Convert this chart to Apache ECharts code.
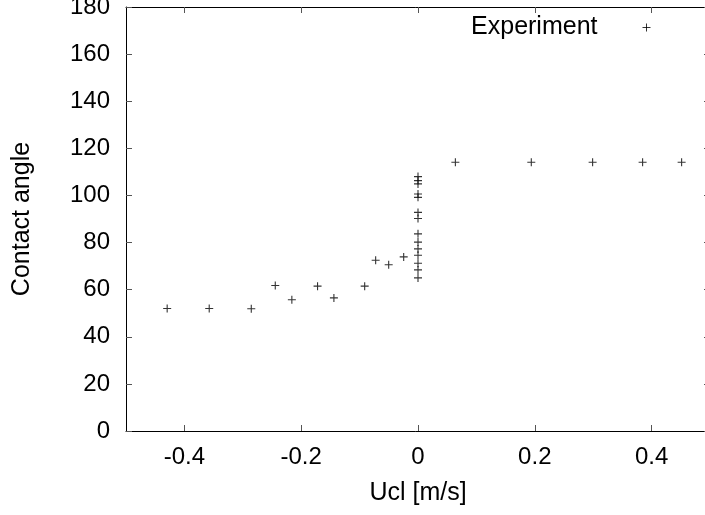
<!DOCTYPE html>
<html>
<head>
<meta charset="utf-8">
<script src="https://cdn.jsdelivr.net/npm/echarts@6/dist/echarts.min.js"></script>
<style>
  html, body { margin: 0; padding: 0; background: #fff; }
  #chart { width: 705px; height: 515px; }
</style>
</head>
<body>
<div id="chart"></div>
<script>
// Data
const seriesName = 'Experiment';
const ucl = [
  -0.4295, -0.3575, -0.2855, -0.2444, -0.216, -0.172, -0.144, -0.0913,
  -0.0725, -0.0502, -0.0245,
  0, 0, 0, 0, 0, 0, 0, 0, 0, 0, 0, 0, 0, 0,
  0.064, 0.194, 0.299, 0.3846, 0.4514
];
const angle = [
  52.0, 52.0, 51.9, 61.8, 55.7, 61.5, 56.5, 61.5,
  72.5, 70.6, 73.9,
  108.0, 106.3, 104.9, 100.6, 99.2, 92.8, 90.2, 83.7, 80.2, 77.3, 74.6, 71.2, 68.4, 65.0,
  114.1, 114.1, 114.1, 114.1, 114.1
];
const xTicks = [-0.4, -0.2, 0, 0.2, 0.4];
const yTicks = [0, 20, 40, 60, 80, 100, 120, 140, 160, 180];

const points = ucl.map((x, i) => [x, angle[i]]);
const FONT = "'Liberation Sans', Arial, Helvetica, sans-serif";
const plus = 'path://M5,0L5,10M0,5L10,5';
const TICK_FS = 24;
const TITLE_FS = 25;

const chart = echarts.init(document.getElementById('chart'), null, { renderer: 'canvas' });

const axisLineStyle = { show: true, onZero: false, lineStyle: { color: '#000', width: 1 } };
const tickStyle = { show: true, inside: true, length: 6, lineStyle: { color: '#555', width: 1 } };

chart.setOption({
  animation: false,
  backgroundColor: '#fff',
  textStyle: { fontFamily: FONT },
  grid: { left: 126, width: 584, top: 7, height: 424, containLabel: false, outerBoundsMode: 'none' },
  legend: {
    show: true,
    data: [seriesName],
    right: 54,
    top: 15,
    padding: 0,
    align: 'right',
    itemWidth: 8,
    itemHeight: 8,
    selectedMode: false,
    itemStyle: { borderWidth: 1, borderColor: '#000', color: 'rgba(0,0,0,0)' },
    textStyle: { fontFamily: FONT, fontSize: TITLE_FS, color: '#000', padding: [0, 40, 0, 0] }
  },
  xAxis: [
    {
      type: 'value', position: 'bottom',
      min: -0.5, max: 0.5, interval: 0.1,
      name: 'Ucl [m/s]', nameLocation: 'middle', nameGap: 50,
      nameTextStyle: { fontFamily: FONT, fontSize: TITLE_FS, color: '#000' },
      axisLine: axisLineStyle,
      axisTick: Object.assign({}, tickStyle, { customValues: xTicks }),
      axisLabel: {
        customValues: xTicks, margin: 14,
        fontFamily: FONT, fontSize: TICK_FS, color: '#000',
        formatter: v => (Math.abs(v) < 1e-9 ? '0' : String(+v.toFixed(1)))
      },
      splitLine: { show: false }
    },
    {
      type: 'value', position: 'top',
      min: -0.5, max: 0.5, interval: 0.1,
      axisLine: axisLineStyle,
      axisTick: Object.assign({}, tickStyle, { customValues: xTicks }),
      axisLabel: { show: false },
      splitLine: { show: false }
    }
  ],
  yAxis: [
    {
      type: 'value', position: 'left',
      min: 0, max: 180, interval: 20,
      name: 'Contact angle', nameLocation: 'middle', nameGap: 91,
      nameTextStyle: { fontFamily: FONT, fontSize: TITLE_FS, color: '#000' },
      axisLine: axisLineStyle,
      axisTick: Object.assign({}, tickStyle, { customValues: yTicks }),
      axisLabel: { customValues: yTicks, margin: 16, fontFamily: FONT, fontSize: TICK_FS, color: '#000' },
      splitLine: { show: false }
    },
    {
      type: 'value', position: 'right',
      min: 0, max: 180, interval: 20,
      axisLine: axisLineStyle,
      axisTick: Object.assign({}, tickStyle, { customValues: yTicks }),
      axisLabel: { show: false },
      splitLine: { show: false }
    }
  ],
  series: [
    {
      name: seriesName,
      type: 'scatter',
      xAxisIndex: 0, yAxisIndex: 0,
      data: points,
      symbol: plus,
      symbolSize: 8,
      itemStyle: { color: 'rgba(0,0,0,0)', borderColor: '#000', borderWidth: 1.1 },
      emphasis: { disabled: true },
      clip: false
    }
  ]
});
</script>
</body>
</html>
